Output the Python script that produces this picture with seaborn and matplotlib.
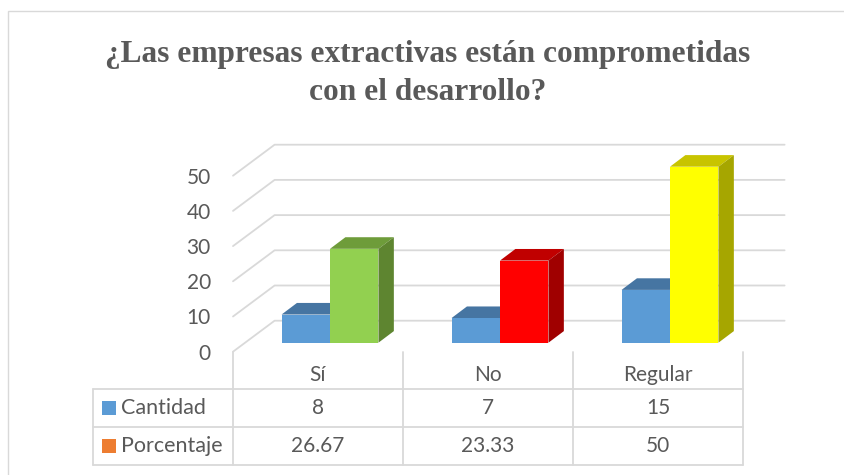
import numpy as np
import pandas as pd
import matplotlib
matplotlib.use("Agg")
import matplotlib.pyplot as plt
import seaborn as sns
from matplotlib.patches import Polygon, Rectangle
from matplotlib.lines import Line2D
from matplotlib.transforms import offset_copy, blended_transform_factory

# datos del grafico
categorias = ["Sí", "No", "Regular"]
series = ["Cantidad", "Porcentaje"]
cantidad = [8, 7, 15]
porcentaje = [26.67, 23.33, 50]
yticks = [0, 10, 20, 30, 40, 50]
titulo = ["¿Las empresas extractivas están comprometidas", "con el desarrollo?"]

# colores
azul, azul_top, azul_lado = "#5B9BD5", "#4675A2", "#41719C"
naranja = "#ED7D31"
frente = ["#92D050", "#FF0000", "#FFFF00"]
tapa = ["#6E9C3A", "#C00000", "#C8C400"]
lado = ["#5E8530", "#A00000", "#A6A600"]
gris = "#595959"
linea = "#D9D9D9"

sns.set_style("white")
plt.rcParams["font.family"] = ["Lato", "DejaVu Sans"]

df = pd.DataFrame({
    "categoria": categorias * 2,
    "serie": [series[0]] * 3 + [series[1]] * 3,
    "valor": cantidad + porcentaje,
})

W, H = 844, 475
fig = plt.figure(figsize=(W / 100, H / 100), dpi=100)
x0p, x1p, ybot, ytop = 233, 743, 351.7, 175.7
ax = fig.add_axes([x0p / W, 1 - ybot / H, (x1p - x0p) / W, (ybot - ytop) / H])

sns.barplot(data=df, x="categoria", y="valor", hue="serie",
            palette=[azul, naranja], width=0.57, saturation=1,
            legend=False, errorbar=None, linewidth=0, ax=ax)
ax.set_xlim(-0.5, 2.5)
ax.set_ylim(0, 50)
for s in ax.spines.values():
    s.set_visible(False)
ax.set_xlabel("")
ax.set_ylabel("")
ax.set_xticks([])
ax.set_yticks(yticks)
ax.tick_params(axis="y", length=0, pad=16, labelsize=15, labelcolor=gris)

to_disp = ax.transData.transform
to_data = ax.transData.inverted().transform

# pared del fondo (3D)
D = np.array([41.6, 31.0])
for v in yticks:
    p0 = to_disp((-0.5, v))
    pts = np.array([p0, p0 + D, to_disp((2.5, v)) + D])
    xy = to_data(pts)
    ax.plot(xy[:, 0], xy[:, 1], color=linea, lw=1.3, clip_on=False, zorder=1)

# barras con efecto 3D
B = np.array([12.0, 9.0])
d = np.array([15.4, 11.6])
off = offset_copy(ax.transData, fig=fig, x=B[0], y=B[1], units="dots")
for p in list(ax.patches):
    x, w, h = p.get_x(), p.get_width(), p.get_height()
    cx = x + w / 2
    cat = int(round(cx))
    if cx > cat:
        cf, ct, cs = frente[cat], tapa[cat], lado[cat]
    else:
        cf, ct, cs = azul, azul_top, azul_lado
    p.set_facecolor(cf)
    p.set_edgecolor("none")
    p.set_transform(off)
    p.set_zorder(3)
    p.set_clip_on(False)
    fl = to_disp((x, h)) + B
    fr = to_disp((x + w, h)) + B
    br = to_disp((x + w, 0)) + B
    top = np.array([fl, fr, fr + d, fl + d])
    side = np.array([br, fr, fr + d, br + d])
    ax.add_patch(Polygon(to_data(top), closed=True, fc=ct, ec="none", zorder=2, clip_on=False))
    ax.add_patch(Polygon(to_data(side), closed=True, fc=cs, ec="none", zorder=2, clip_on=False))

# tabla de datos
tr = blended_transform_factory(ax.transData, fig.transFigure)
fy = lambda py: 1 - py / H
for xb in [-0.5, 0.5, 1.5, 2.5]:
    ax.add_line(Line2D([xb, xb], [fy(351.7), fy(465)], transform=tr, color=linea, lw=1.3, clip_on=False))
for py in [389.3, 427.3, 465]:
    fig.add_artist(Line2D([93.3 / W, x1p / W], [fy(py), fy(py)], color=linea, lw=1.3))
fig.add_artist(Line2D([93.3 / W, 93.3 / W], [fy(389.3), fy(465)], color=linea, lw=1.3))

for i, c in enumerate(categorias):
    ax.text(i, fy(375), c, transform=tr, ha="center", va="center", fontsize=15, color=gris)
    ax.text(i, fy(408), f"{cantidad[i]:g}", transform=tr, ha="center", va="center", fontsize=15, color=gris)
    ax.text(i, fy(446), f"{porcentaje[i]:g}", transform=tr, ha="center", va="center", fontsize=15, color=gris)

for nombre, col, py in [(series[0], azul, 408), (series[1], naranja, 446)]:
    fig.add_artist(Rectangle((102.3 / W, fy(py + 7)), 13.4 / W, 14 / H, transform=fig.transFigure,
                             fc=col, ec="none"))
    fig.text(121 / W, fy(py), nombre, ha="left", va="center", fontsize=15.5, color=gris)

for linea_t, py in zip(titulo, [61.7, 100]):
    fig.text(428 / W, fy(py), linea_t, ha="center", va="baseline", fontsize=22.6, fontweight="bold",
             family=["Liberation Serif"], color=gris)

fig.add_artist(Rectangle((8 / W, -0.1), 1.2, 1.1 - 11 / H, transform=fig.transFigure,
                         fill=False, ec=linea, lw=1))

fig.savefig("out.png", dpi=100)
